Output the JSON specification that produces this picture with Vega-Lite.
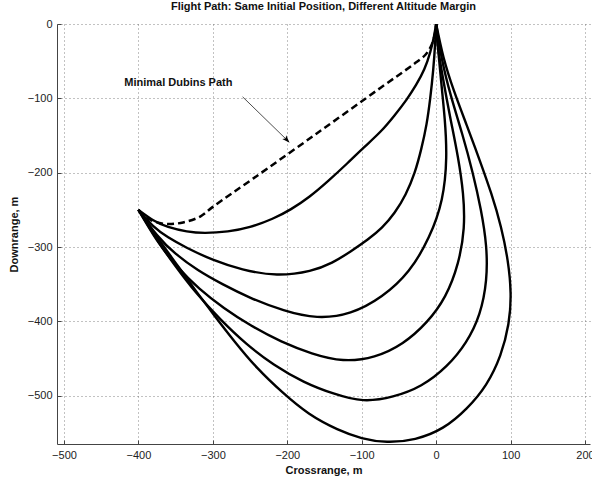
{
  "$schema": "https://vega.github.io/schema/vega-lite/v6.json",
  "autosize": "none",
  "width": 533,
  "height": 420,
  "padding": {"left": 57, "top": 24, "right": 2, "bottom": 37},
  "background": "white",
  "config": {
    "font": "Liberation Sans",
    "view": {"stroke": null},
    "axis": {
      "domainColor": "#444",
      "domainWidth": 1,
      "tickColor": "#444",
      "tickSize": -4,
      "labelFont": "Liberation Sans",
      "labelFontSize": 11,
      "labelColor": "#222",
      "titleFont": "Liberation Sans",
      "titleFontSize": 11,
      "titleFontWeight": "bold",
      "titleColor": "#111",
      "grid": true,
      "gridColor": "#666",
      "gridDash": [1, 3],
      "gridWidth": 1,
      "gridOpacity": 0.8
    }
  },
  "title": {
    "text": "Flight Path: Same Initial Position, Different Altitude Margin",
    "font": "Liberation Sans",
    "fontSize": 11,
    "fontWeight": "bold",
    "color": "#111",
    "offset": 6,
    "anchor": "middle"
  },
  "datasets": {
    "solid": [
      {"c": "C1", "i": 0, "x": -400, "y": -250}, {"c": "C1", "i": 1, "x": -380, "y": -264}, {"c": "C1", "i": 2, "x": -360, "y": -273}, {"c": "C1", "i": 3, "x": -335, "y": -279}, {"c": "C1", "i": 4, "x": -310, "y": -281}, {"c": "C1", "i": 5, "x": -280, "y": -279}, {"c": "C1", "i": 6, "x": -250, "y": -273}, {"c": "C1", "i": 7, "x": -220, "y": -262}, {"c": "C1", "i": 8, "x": -195, "y": -249}, {"c": "C1", "i": 9, "x": -170, "y": -232}, {"c": "C1", "i": 10, "x": -145, "y": -211}, {"c": "C1", "i": 11, "x": -120, "y": -188}, {"c": "C1", "i": 12, "x": -97, "y": -166}, {"c": "C1", "i": 13, "x": -75, "y": -145}, {"c": "C1", "i": 14, "x": -56, "y": -123}, {"c": "C1", "i": 15, "x": -40, "y": -102}, {"c": "C1", "i": 16, "x": -27, "y": -82}, {"c": "C1", "i": 17, "x": -16, "y": -61}, {"c": "C1", "i": 18, "x": -8, "y": -38}, {"c": "C1", "i": 19, "x": -3, "y": -17}, {"c": "C1", "i": 20, "x": 0, "y": 0},
      {"c": "C2", "i": 0, "x": -400, "y": -250}, {"c": "C2", "i": 1, "x": -380, "y": -272}, {"c": "C2", "i": 2, "x": -360, "y": -287}, {"c": "C2", "i": 3, "x": -335, "y": -301}, {"c": "C2", "i": 4, "x": -300, "y": -317}, {"c": "C2", "i": 5, "x": -260, "y": -330}, {"c": "C2", "i": 6, "x": -214, "y": -337}, {"c": "C2", "i": 7, "x": -170, "y": -332}, {"c": "C2", "i": 8, "x": -140, "y": -321}, {"c": "C2", "i": 9, "x": -115, "y": -306}, {"c": "C2", "i": 10, "x": -92, "y": -290}, {"c": "C2", "i": 11, "x": -73, "y": -274}, {"c": "C2", "i": 12, "x": -56, "y": -254}, {"c": "C2", "i": 13, "x": -41, "y": -229}, {"c": "C2", "i": 14, "x": -29, "y": -200}, {"c": "C2", "i": 15, "x": -20, "y": -168}, {"c": "C2", "i": 16, "x": -13, "y": -135}, {"c": "C2", "i": 17, "x": -8, "y": -100}, {"c": "C2", "i": 18, "x": -4, "y": -62}, {"c": "C2", "i": 19, "x": -1.5, "y": -28}, {"c": "C2", "i": 20, "x": 0, "y": 0},
      {"c": "C3", "i": 0, "x": -400, "y": -250}, {"c": "C3", "i": 1, "x": -375, "y": -284}, {"c": "C3", "i": 2, "x": -350, "y": -309}, {"c": "C3", "i": 3, "x": -320, "y": -331}, {"c": "C3", "i": 4, "x": -287, "y": -350}, {"c": "C3", "i": 5, "x": -250, "y": -368}, {"c": "C3", "i": 6, "x": -205, "y": -385}, {"c": "C3", "i": 7, "x": -160, "y": -394}, {"c": "C3", "i": 8, "x": -115, "y": -388}, {"c": "C3", "i": 9, "x": -73, "y": -366}, {"c": "C3", "i": 10, "x": -37, "y": -332}, {"c": "C3", "i": 11, "x": -10, "y": -287}, {"c": "C3", "i": 12, "x": 7.5, "y": -236}, {"c": "C3", "i": 13, "x": 13.5, "y": -180}, {"c": "C3", "i": 14, "x": 11.5, "y": -128}, {"c": "C3", "i": 15, "x": 7, "y": -80}, {"c": "C3", "i": 16, "x": 3, "y": -38}, {"c": "C3", "i": 17, "x": 0, "y": 0},
      {"c": "C4", "i": 0, "x": -400, "y": -250}, {"c": "C4", "i": 1, "x": -375, "y": -291}, {"c": "C4", "i": 2, "x": -348, "y": -326}, {"c": "C4", "i": 3, "x": -318, "y": -356}, {"c": "C4", "i": 4, "x": -285, "y": -382}, {"c": "C4", "i": 5, "x": -248, "y": -406}, {"c": "C4", "i": 6, "x": -208, "y": -427}, {"c": "C4", "i": 7, "x": -167, "y": -443}, {"c": "C4", "i": 8, "x": -125, "y": -452}, {"c": "C4", "i": 9, "x": -83, "y": -447}, {"c": "C4", "i": 10, "x": -45, "y": -429}, {"c": "C4", "i": 11, "x": -13, "y": -401}, {"c": "C4", "i": 12, "x": 12, "y": -366}, {"c": "C4", "i": 13, "x": 29, "y": -322}, {"c": "C4", "i": 14, "x": 37, "y": -275}, {"c": "C4", "i": 15, "x": 36, "y": -228}, {"c": "C4", "i": 16, "x": 29, "y": -178}, {"c": "C4", "i": 17, "x": 19, "y": -126}, {"c": "C4", "i": 18, "x": 9, "y": -72}, {"c": "C4", "i": 19, "x": 2, "y": -27}, {"c": "C4", "i": 20, "x": 0, "y": 0},
      {"c": "C5", "i": 0, "x": -400, "y": -250}, {"c": "C5", "i": 1, "x": -375, "y": -290}, {"c": "C5", "i": 2, "x": -350, "y": -326}, {"c": "C5", "i": 3, "x": -322, "y": -362}, {"c": "C5", "i": 4, "x": -290, "y": -397}, {"c": "C5", "i": 5, "x": -255, "y": -430}, {"c": "C5", "i": 6, "x": -218, "y": -458}, {"c": "C5", "i": 7, "x": -178, "y": -481}, {"c": "C5", "i": 8, "x": -138, "y": -497}, {"c": "C5", "i": 9, "x": -98, "y": -506}, {"c": "C5", "i": 10, "x": -58, "y": -501}, {"c": "C5", "i": 11, "x": -20, "y": -486}, {"c": "C5", "i": 12, "x": 14, "y": -460}, {"c": "C5", "i": 13, "x": 40, "y": -428}, {"c": "C5", "i": 14, "x": 58, "y": -390}, {"c": "C5", "i": 15, "x": 67, "y": -345}, {"c": "C5", "i": 16, "x": 67, "y": -298}, {"c": "C5", "i": 17, "x": 60, "y": -250}, {"c": "C5", "i": 18, "x": 49, "y": -200}, {"c": "C5", "i": 19, "x": 35, "y": -148}, {"c": "C5", "i": 20, "x": 20, "y": -97}, {"c": "C5", "i": 21, "x": 8, "y": -48}, {"c": "C5", "i": 22, "x": 0, "y": 0},
      {"c": "C6", "i": 0, "x": -400, "y": -250}, {"c": "C6", "i": 1, "x": -376, "y": -285}, {"c": "C6", "i": 2, "x": -351, "y": -320}, {"c": "C6", "i": 3, "x": -325, "y": -356}, {"c": "C6", "i": 4, "x": -298, "y": -392}, {"c": "C6", "i": 5, "x": -270, "y": -428}, {"c": "C6", "i": 6, "x": -240, "y": -463}, {"c": "C6", "i": 7, "x": -207, "y": -495}, {"c": "C6", "i": 8, "x": -171, "y": -524}, {"c": "C6", "i": 9, "x": -133, "y": -545}, {"c": "C6", "i": 10, "x": -100, "y": -557}, {"c": "C6", "i": 11, "x": -66, "y": -562}, {"c": "C6", "i": 12, "x": -28, "y": -558}, {"c": "C6", "i": 13, "x": 9, "y": -543}, {"c": "C6", "i": 14, "x": 41, "y": -517}, {"c": "C6", "i": 15, "x": 67, "y": -485}, {"c": "C6", "i": 16, "x": 86, "y": -446}, {"c": "C6", "i": 17, "x": 97, "y": -404}, {"c": "C6", "i": 18, "x": 100, "y": -362}, {"c": "C6", "i": 19, "x": 96, "y": -318}, {"c": "C6", "i": 20, "x": 87, "y": -273}, {"c": "C6", "i": 21, "x": 74, "y": -228}, {"c": "C6", "i": 22, "x": 58, "y": -182}, {"c": "C6", "i": 23, "x": 41, "y": -136}, {"c": "C6", "i": 24, "x": 24, "y": -90}, {"c": "C6", "i": 25, "x": 10, "y": -45}, {"c": "C6", "i": 26, "x": 0, "y": 0}
    ],
    "dubins": [
      {"i": 0, "x": -400, "y": -250}, {"i": 1, "x": -390, "y": -260}, {"i": 2, "x": -378, "y": -266}, {"i": 3, "x": -362, "y": -269}, {"i": 4, "x": -340, "y": -267}, {"i": 5, "x": -317, "y": -259}, {"i": 6, "x": -300, "y": -246}, {"i": 7, "x": -246, "y": -208}, {"i": 8, "x": -160, "y": -147}, {"i": 9, "x": -75, "y": -86}, {"i": 10, "x": -30, "y": -54}, {"i": 11, "x": -15, "y": -42}, {"i": 12, "x": -7, "y": -30}, {"i": 13, "x": -2, "y": -15}, {"i": 14, "x": 0, "y": 0}
    ],
    "note": [{"label": "Minimal Dubins Path", "x": -419, "y": -79}],
    "arrow": [{"x": -260, "y": -98, "x2": -200.5, "y2": -156}]
  },
  "layer": [
    {
      "data": {"name": "solid"},
      "mark": {"type": "line", "color": "black", "strokeWidth": 2.4, "interpolate": "natural", "clip": true},
      "encoding": {
        "x": {"field": "x", "type": "quantitative", "scale": {"domain": [-509.4, 206.7], "nice": false, "zero": false},
              "axis": {"values": [-500, -400, -300, -200, -100, 0, 100, 200], "title": "Crossrange, m", "labelPadding": 9, "titlePadding": 4, "labelFlush": false, "labelOverlap": false}},
        "y": {"field": "y", "type": "quantitative", "scale": {"domain": [-565, 0], "nice": false, "zero": false},
              "axis": {"values": [-500, -400, -300, -200, -100, 0], "title": "Downrange, m", "labelPadding": 9, "titlePadding": 8, "labelFlush": false, "labelOverlap": false}},
        "detail": {"field": "c"},
        "order": {"field": "i", "type": "quantitative"}
      }
    },
    {
      "data": {"name": "dubins"},
      "mark": {"type": "line", "color": "black", "strokeWidth": 2.5, "strokeDash": [7, 4], "interpolate": "catmull-rom"},
      "encoding": {
        "x": {"field": "x", "type": "quantitative"},
        "y": {"field": "y", "type": "quantitative"},
        "order": {"field": "i", "type": "quantitative"}
      }
    },
    {
      "data": {"name": "arrow"},
      "mark": {"type": "rule", "color": "black", "strokeWidth": 0.7},
      "encoding": {
        "x": {"field": "x", "type": "quantitative"},
        "y": {"field": "y", "type": "quantitative"},
        "x2": {"field": "x2"},
        "y2": {"field": "y2"}
      }
    },
    {
      "data": {"name": "arrow"},
      "mark": {"type": "point", "shape": "M -0.7 1 L 0 -1 L 0.7 1 L 0 0.5 Z", "filled": true, "color": "black", "opacity": 1, "size": 60, "angle": 136},
      "encoding": {
        "x": {"field": "x2", "type": "quantitative"},
        "y": {"field": "y2", "type": "quantitative"}
      }
    },
    {
      "data": {"name": "note"},
      "mark": {"type": "text", "align": "left", "baseline": "middle", "fontWeight": "bold", "fontSize": 11, "font": "Liberation Sans", "color": "#111"},
      "encoding": {
        "x": {"field": "x", "type": "quantitative"},
        "y": {"field": "y", "type": "quantitative"},
        "text": {"field": "label"}
      }
    }
  ]
}
